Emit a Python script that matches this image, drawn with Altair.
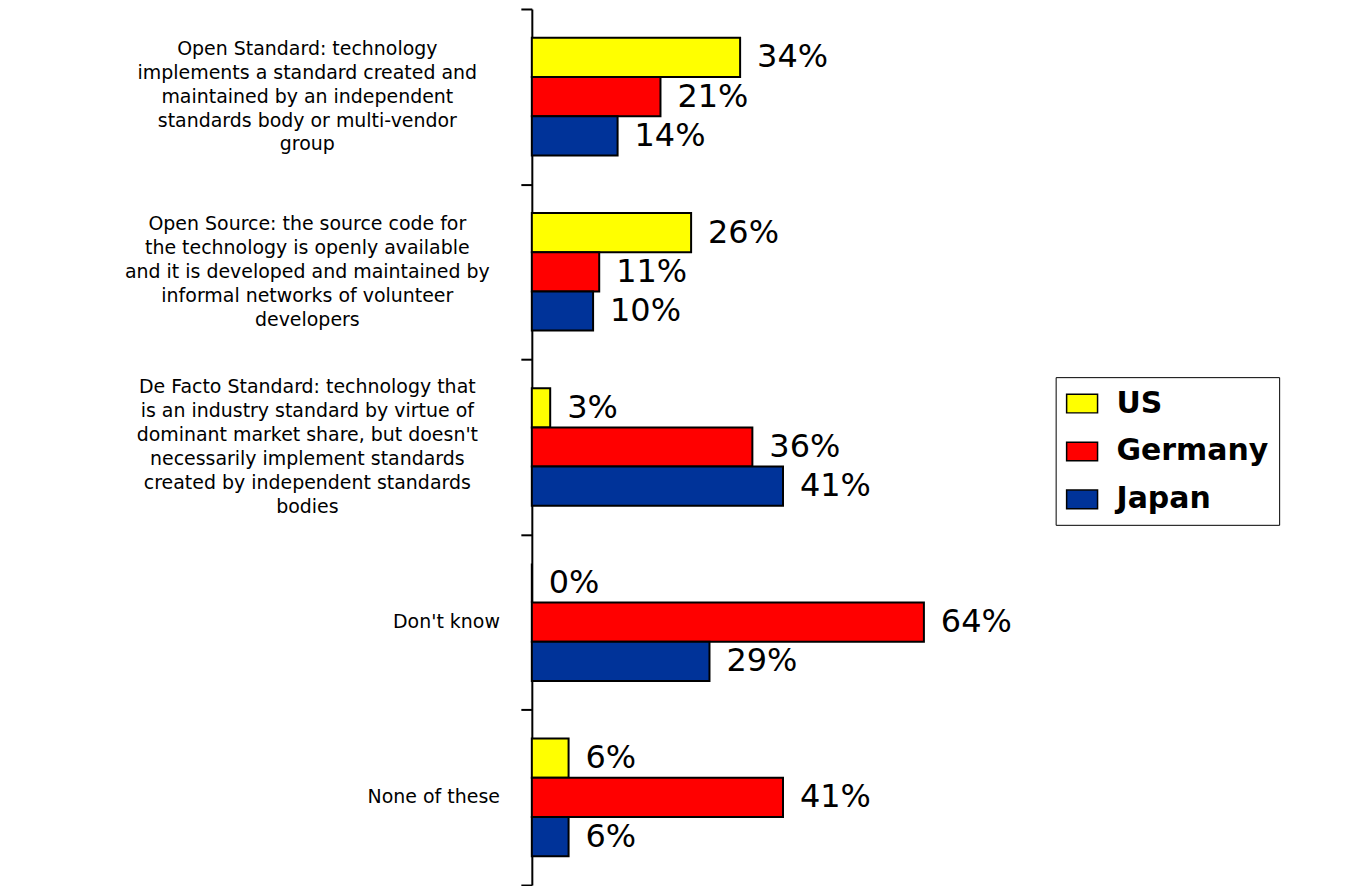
import altair as alt
import pandas as pd

categories = [
    "Open Standard: technology\nimplements a standard created and\nmaintained by an independent\nstandards body or multi-vendor\ngroup",
    "Open Source: the source code for\nthe technology is openly available\nand it is developed and maintained by\ninformal networks of volunteer\ndevelopers",
    "De Facto Standard: technology that\nis an industry standard by virtue of\ndominant market share, but doesn't\nnecessarily implement standards\ncreated by independent standards\nbodies",
    "Don't know",
    "None of these",
]
countries = ["US", "Germany", "Japan"]
us = [34, 26, 3, 0, 6]
germany = [21, 11, 36, 64, 41]
japan = [14, 10, 41, 29, 6]
colors = ["#FFFF00", "#FF0000", "#003399"]

rows = []
for series, vals in zip(countries, [us, germany, japan]):
    for cat, v in zip(categories, vals):
        rows.append({"category": cat, "country": series, "value": v, "label": f"{v}%"})
df = pd.DataFrame(rows)

cat_df = pd.DataFrame({"category": categories,
                       "lines": [c.count("\n") + 1 for c in categories]})

yaxis = alt.Axis(
    title=None, labels=False,
    domainColor="black", domainWidth=2,
    tickColor="black", tickWidth=2, tickSize=11, tickBand="extent",
)

yenc = alt.Y("category:N", sort=categories,
             scale=alt.Scale(paddingInner=0, paddingOuter=0), axis=yaxis)

base = alt.Chart(df).encode(
    y=yenc,
    yOffset=alt.YOffset("country:N", sort=countries,
                        scale=alt.Scale(paddingInner=0, paddingOuter=0.735)),
    x=alt.X("value:Q", scale=alt.Scale(domain=[0, 132.9], nice=False), axis=None),
)

bars = base.mark_bar(stroke="black", strokeWidth=2).encode(
    color=alt.Color(
        "country:N", sort=countries,
        scale=alt.Scale(domain=countries, range=colors),
        legend=alt.Legend(
            title=None, orient="none", legendX=525, legendY=369,
            strokeColor="black", fillColor="white", padding=10,
            symbolType="M-1,-0.6L1,-0.6L1,0.6L-1,0.6Z", symbolSize=961,
            symbolStrokeColor="black", symbolStrokeWidth=1.5, symbolOpacity=1,
            labelFontSize=30, labelFont="DejaVu Sans", labelFontWeight="bold",
            labelColor="black", labelOffset=18, rowPadding=16,
        ),
    )
)

values = base.mark_text(
    align="left", baseline="middle", dx=17, fontSize=32,
    font="DejaVu Sans", color="black"
).encode(text="label:N")

cat_base = alt.Chart(cat_df).encode(y=alt.Y("category:N", sort=categories), text="category:N")
txt = dict(font="DejaVu Sans", fontSize=19, color="black", lineBreak="\n",
           lineHeight=24, baseline="middle")
cat5 = cat_base.transform_filter("datum.lines == 5").mark_text(
    align="center", dy=-48, **txt).encode(x=alt.value(-225))
cat6 = cat_base.transform_filter("datum.lines == 6").mark_text(
    align="center", dy=-60, **txt).encode(x=alt.value(-225))
cat1 = cat_base.transform_filter("datum.lines == 1").mark_text(
    align="right", **txt).encode(x=alt.value(-32))

chart = alt.layer(bars, values, cat5, cat6, cat1).properties(
    width=816, height=878,
    autosize=alt.AutoSizeParams(type="none"),
    padding={"left": 525, "top": 0, "right": 0, "bottom": 0},
).configure_view(stroke=None)

chart.save("out.html", embed_options={"renderer": "svg", "actions": False})
